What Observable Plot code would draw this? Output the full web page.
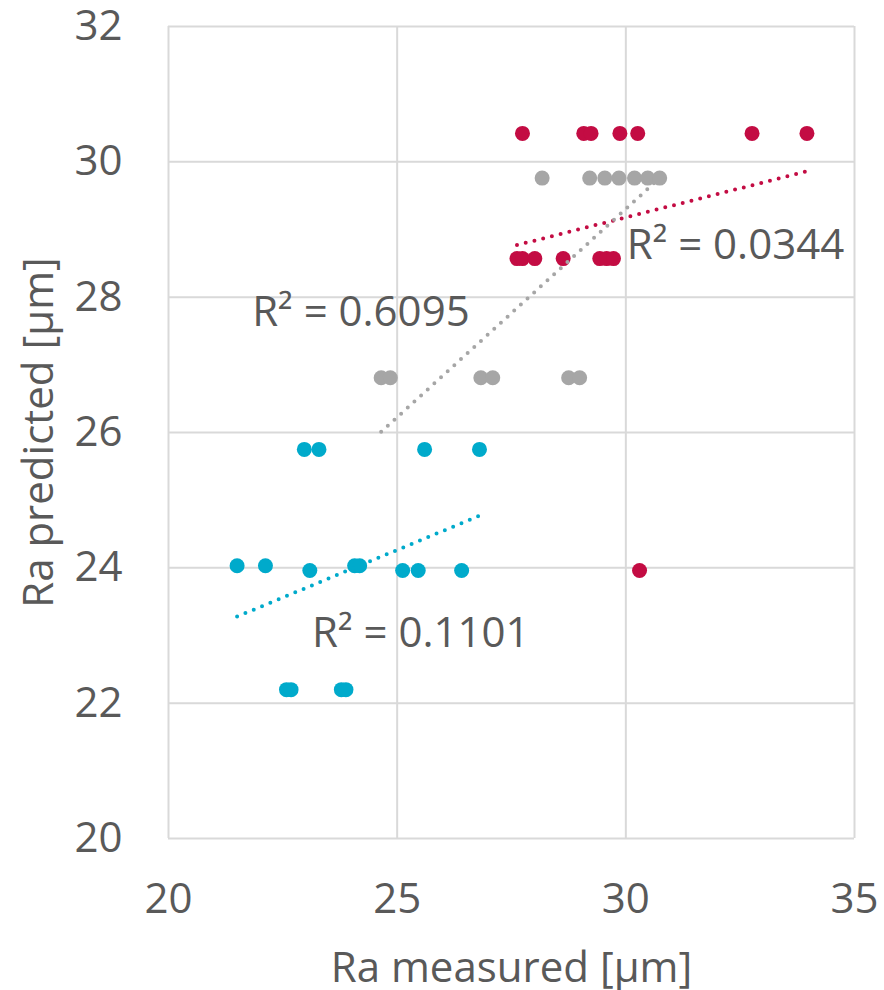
<!DOCTYPE html>
<html>
<head>
<meta charset="utf-8">
<script src="https://cdn.jsdelivr.net/npm/d3@7"></script>
<script src="https://cdn.jsdelivr.net/npm/@observablehq/plot@0.6"></script>
<style>
  html, body { margin: 0; padding: 0; background: #ffffff; }
  #chart { width: 884px; height: 990px; }
</style>
</head>
<body>
<div id="chart"></div>
<script>
// ---- Data ----
const xTicks = [20, 25, 30, 35];
const yTicks = [20, 22, 24, 26, 28, 30, 32];

const seriesNames = ["Series A", "Series B", "Series C"];
const seriesColors = ["#C30C43", "#A6A6A6", "#00AACB"];

// Series A (crimson)
const aX = [27.74, 29.08, 29.24, 29.87, 30.26, 32.76, 33.96, 27.62, 27.74, 28.01, 28.63, 29.43, 29.58, 29.73, 30.30];
const aY = [30.42, 30.42, 30.42, 30.42, 30.42, 30.42, 30.42, 28.57, 28.57, 28.57, 28.57, 28.57, 28.57, 28.57, 23.96];

// Series B (gray)
const bX = [28.17, 29.21, 29.54, 29.85, 30.19, 30.48, 30.74, 24.65, 24.85, 26.83, 27.09, 28.75, 28.99];
const bY = [29.76, 29.76, 29.76, 29.76, 29.76, 29.76, 29.76, 26.81, 26.81, 26.81, 26.81, 26.81, 26.81];

// Series C (cyan)
const cX = [21.50, 22.12, 24.07, 24.18, 23.09, 25.12, 25.46, 26.41, 22.58, 22.68, 23.78, 23.88, 22.97, 23.29, 25.60, 26.80];
const cY = [24.03, 24.03, 24.03, 24.03, 23.96, 23.96, 23.96, 23.96, 22.20, 22.20, 22.20, 22.20, 25.75, 25.75, 25.75, 25.75];

// Linear trendline end points (as drawn in the reference)
const trendSeries = ["Series A", "Series A", "Series B", "Series B", "Series C", "Series C"];
const trendX = [27.62, 33.96, 24.65, 30.74, 21.50, 26.80];
const trendY = [28.77, 29.86, 26.01, 29.76, 23.28, 24.77];

// R² labels
const labelText = ["R² = 0.0344", "R² = 0.6095", "R² = 0.1101"];
const labelX = [30.02, 21.83, 23.14];
const labelY = [28.77, 27.77, 23.03];

const xTitle = "Ra measured [µm]";
const yTitle = "Ra predicted [µm]";

// ---- Build tables ----
const points = [
  ...aX.map((x, i) => ({series: "Series A", x, y: aY[i]})),
  ...bX.map((x, i) => ({series: "Series B", x, y: bY[i]})),
  ...cX.map((x, i) => ({series: "Series C", x, y: cY[i]}))
];
const trends = trendX.map((x, i) => ({series: trendSeries[i], x, y: trendY[i]}));
const labels = labelText.map((t, i) => ({text: t, x: labelX[i], y: labelY[i]}));

const textColor = "#595959";
const gridColor = "#D9D9D9";

const chart = Plot.plot({
  width: 884,
  height: 990,
  marginLeft: 168,
  marginRight: 30,
  marginTop: 26,
  marginBottom: 152,
  style: {fontFamily: "'Open Sans', sans-serif", fontSize: "42px", color: textColor, background: "#ffffff", overflow: "visible"},
  x: {domain: [20, 35], label: xTitle, labelArrow: "none"},
  y: {domain: [20, 32], label: yTitle, labelArrow: "none"},
  color: {type: "ordinal", domain: seriesNames, range: seriesColors},
  marks: [
    Plot.gridX(xTicks, {stroke: gridColor, strokeOpacity: 1, strokeWidth: 2}),
    Plot.gridY(yTicks, {stroke: gridColor, strokeOpacity: 1, strokeWidth: 2}),
    Plot.axisX(xTicks, {tickSize: 0, tickPadding: 45, fill: textColor, fontSize: 42, tickFormat: d => String(d),
      label: xTitle, labelArrow: "none", labelAnchor: "center", labelOffset: 143}),
    Plot.axisY(yTicks, {tickSize: 0, tickPadding: 46, fill: textColor, fontSize: 42, tickFormat: d => String(d),
      label: yTitle, labelArrow: "none", labelAnchor: "center", labelOffset: 145}),
    Plot.dot(points, {x: "x", y: "y", r: 7.5, fill: "series", stroke: null}),
    Plot.line(trends, {x: "x", y: "y", z: "series", stroke: "series", strokeWidth: 4,
      strokeDasharray: "0,9", strokeLinecap: "round"}),
    Plot.text(labels, {x: "x", y: "y", text: "text", textAnchor: "start", lineAnchor: "middle",
      fill: textColor, fontSize: 42})
  ]
});
document.getElementById("chart").appendChild(chart);
</script>
</body>
</html>
